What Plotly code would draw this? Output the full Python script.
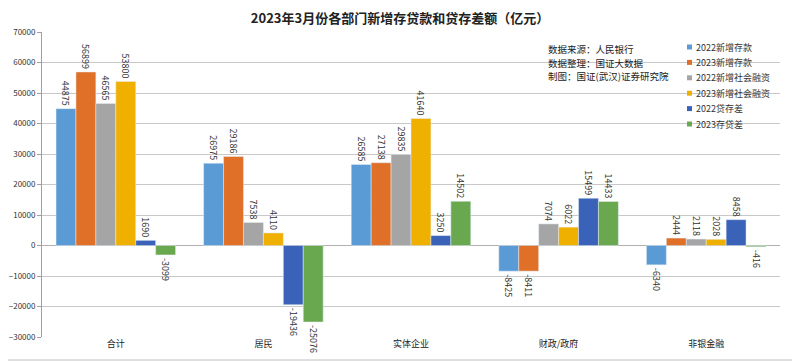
import plotly.graph_objects as go

categories = ["合计", "居民", "实体企业", "财政/政府", "非银金融"]
series_names = ["2022新增存款", "2023新增存款", "2022新增社会融资", "2023新增社会融资", "2022贷存差", "2023存贷差"]
dep_2022 = [44875, 26975, 26585, -8425, -6340]
dep_2023 = [56899, 29186, 27138, -8411, 2444]
tsf_2022 = [46565, 7538, 29835, 7074, 2118]
tsf_2023 = [53800, 4110, 41640, 6022, 2028]
gap_2022 = [1690, -19436, 3250, 15499, 8458]
gap_2023 = [-3099, -25076, 14502, 14433, -416]
colors = ["#5b9bd5", "#e07028", "#a5a5a5", "#f0b000", "#3a62b8", "#6aa84f"]
source_lines = ["数据来源：人民银行", "数据整理：国证大数据", "制图：国证(武汉)证券研究院"]

series = [dep_2022, dep_2023, tsf_2022, tsf_2023, gap_2022, gap_2023]
FONT = "Noto Sans CJK SC"

fig = go.Figure()
for name, vals, c in zip(series_names, series, colors):
    fig.add_trace(go.Bar(
        x=categories, y=vals, name=name, marker_color=c,
        text=[str(v) for v in vals], textposition="outside", textangle=90,
        constraintext="none",
        textfont=dict(size=9, color="#333333", family=FONT),
        cliponaxis=False, showlegend=False,
    ))

# page body has an 8px offset; margins compensate so the plot area sits at
# window x 42..780, y 32..337
fig.update_layout(
    width=800, height=362,
    margin=dict(l=34, r=28, t=24, b=33, autoexpand=False),
    paper_bgcolor="white", plot_bgcolor="white",
    barmode="group", bargap=0.19, bargroupgap=0,
    font=dict(family=FONT, color="#333333"),
    title=dict(text="<b>2023年3月份各部门新增存贷款和贷存差额（亿元）</b>",
               x=0.49, xanchor="center", y=0.97, yanchor="middle",
               font=dict(size=13, color="#222222", family=FONT)),
)
fig.update_yaxes(range=[-30000, 70000], dtick=10000, tickformat="d", showgrid=True, gridcolor="#c8c8c8",
                 gridwidth=1, zeroline=True, zerolinecolor="#b0b0b0", zerolinewidth=1,
                 showline=True, linecolor="#a0a0a0", ticks="outside", ticklen=4,
                 tickcolor="#a0a0a0", tickfont=dict(size=8, color="#333333"), automargin=False)
fig.update_xaxes(showline=False, tickfont=dict(size=9, color="#222222"), ticks="", automargin=False)

def px_to_paper(px, py):
    return (px - 42) / 738.0, (337 - py) / 305.0

for i, line in enumerate(source_lines):
    x, y = px_to_paper(546, 49.5 + 13.5 * i)
    fig.add_annotation(xref="paper", yref="paper", x=x, y=y, xanchor="left", yanchor="middle",
                       text=line, showarrow=False, align="left",
                       font=dict(size=9.5, color="#222222", family=FONT))

for i, (name, c) in enumerate(zip(series_names, colors)):
    py = 47 + 15.4 * i
    x0, y0 = px_to_paper(687, py - 2.5)
    x1, y1 = px_to_paper(692, py + 2.5)
    fig.add_shape(type="rect", xref="paper", yref="paper", x0=x0, x1=x1, y0=y1, y1=y0,
                  fillcolor=c, line=dict(width=0))
    tx, ty = px_to_paper(694, py)
    fig.add_annotation(xref="paper", yref="paper", x=tx, y=ty, xanchor="left", yanchor="middle",
                       text=name, showarrow=False, font=dict(size=9, color="#333333", family=FONT))

# outer frame (bottom and right edges visible)
bx1, by0 = px_to_paper(797, 360)
bx0, _ = px_to_paper(0, 0)
fig.add_shape(type="line", xref="paper", yref="paper", x0=bx0, x1=bx1, y0=by0, y1=by0,
              line=dict(color="#c0c0c0", width=1))
fig.add_shape(type="line", xref="paper", yref="paper", x0=bx1, x1=bx1, y0=by0, y1=1.11,
              line=dict(color="#c0c0c0", width=1))

fig.write_html("out.html")
